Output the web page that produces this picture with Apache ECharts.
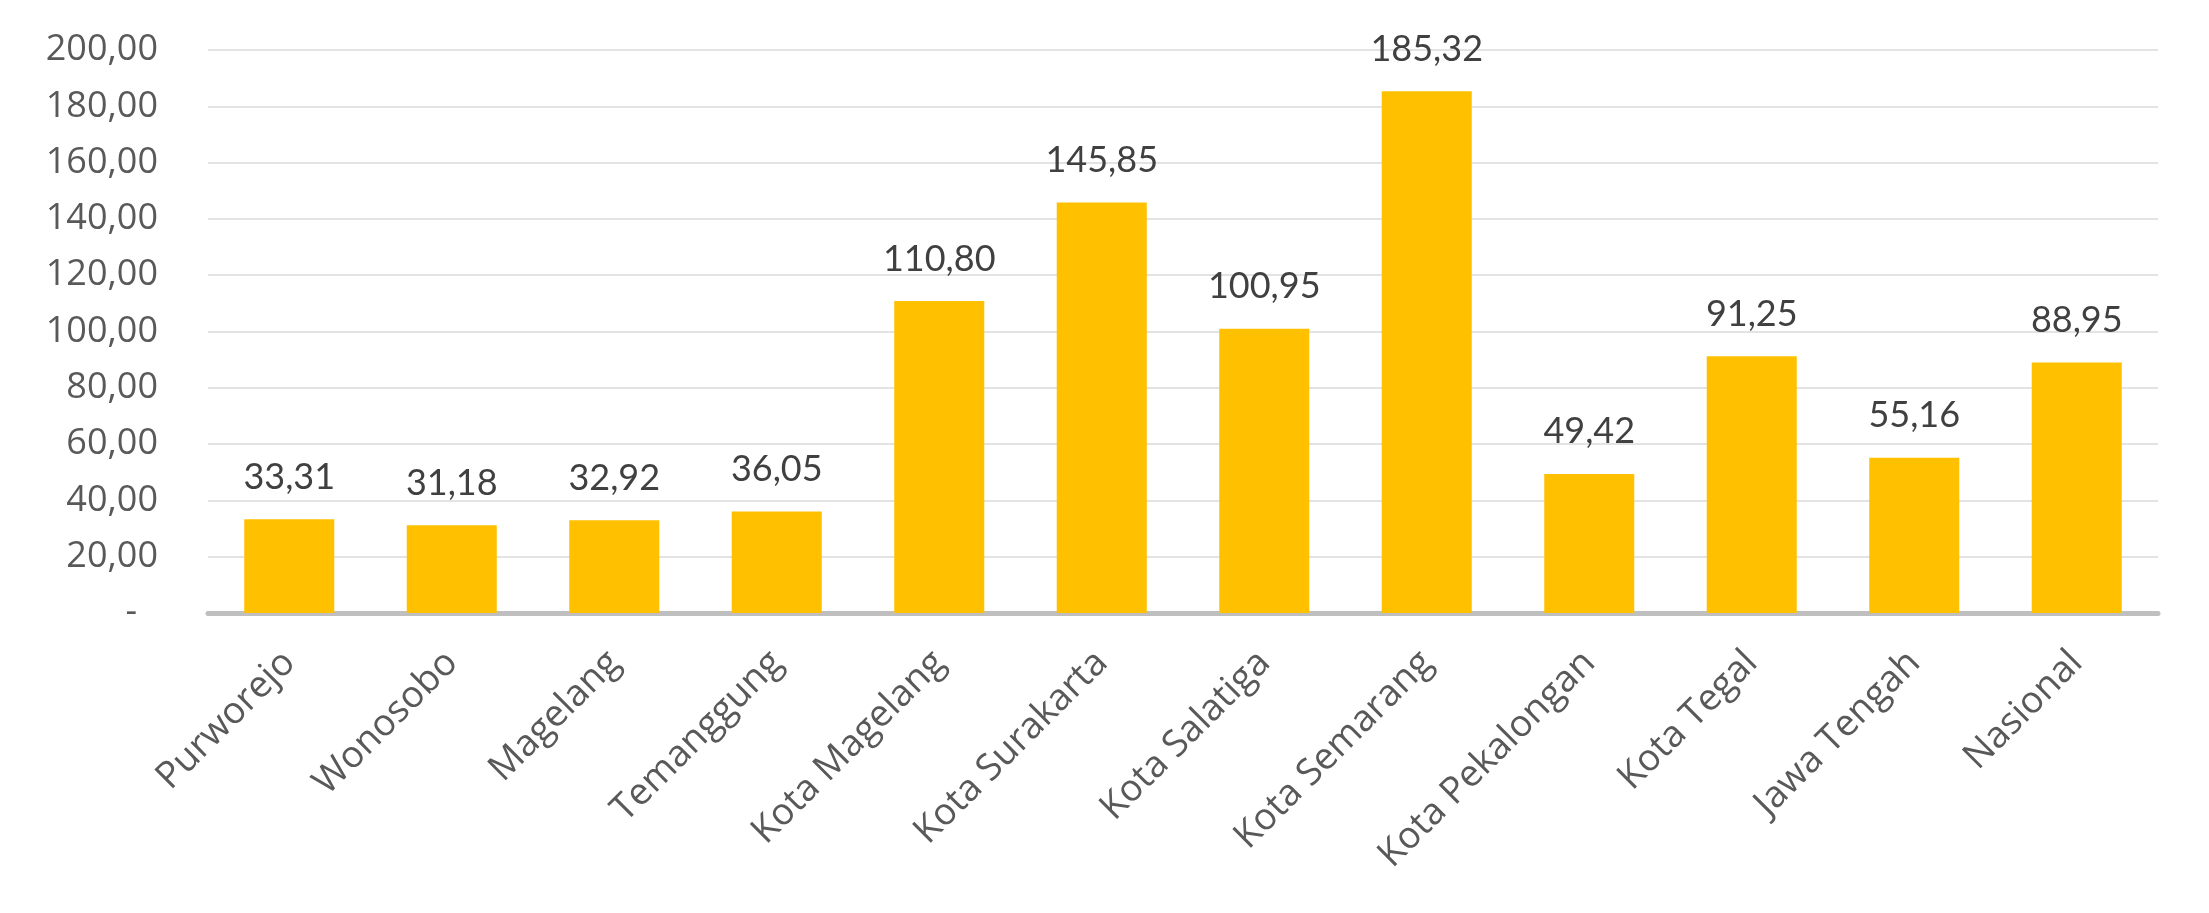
<!DOCTYPE html>
<html>
<head>
<meta charset="utf-8">
<script src="https://cdn.jsdelivr.net/npm/echarts@6/dist/echarts.min.js"></script>
<style>
html,body{margin:0;padding:0;background:#fff;}
#chart{width:2209px;height:913px;}
</style>
</head>
<body>
<div id="chart"></div>
<script>
const categories = ["Purworejo","Wonosobo","Magelang","Temanggung","Kota Magelang","Kota Surakarta","Kota Salatiga","Kota Semarang","Kota Pekalongan","Kota Tegal","Jawa Tengah","Nasional"];
const values = [33.31, 31.18, 32.92, 36.05, 110.80, 145.85, 100.95, 185.32, 49.42, 91.25, 55.16, 88.95];
const yMin = 0, yMax = 200, yStep = 20;

function fmt(v){ return v.toFixed(2).replace('.', ','); }

const chart = echarts.init(document.getElementById('chart'), null, {renderer:'canvas'});
chart.setOption({
  backgroundColor:'#ffffff',
  animation:false,
  grid:{left:208, right:51, top:50, bottom:300, containLabel:false},
  xAxis:{
    type:'category',
    data:categories,
    axisLine:{show:true, lineStyle:{color:'#bfbfbf', width:5}},
    axisTick:{show:false},
    axisLabel:{
      rotate:45, interval:0, margin:44,
      fontFamily:'Open Sans', fontSize:37, color:'#595959'
    }
  },
  yAxis:{
    type:'value', min:yMin, max:yMax, interval:yStep,
    axisLine:{show:false}, axisTick:{show:false},
    splitLine:{show:true, lineStyle:{color:'#e3e3e3', width:2}},
    axisLabel:{
      margin:50, fontFamily:'Open Sans', fontSize:36, color:'#595959',
      formatter:function(v){ return v===0 ? '{d|-}' : fmt(v); },
      rich:{d:{fontFamily:'Open Sans', fontSize:36, color:'#595959', padding:[0,21,0,0]}}
    }
  },
  series:[{
    type:'bar',
    data:values,
    barWidth:'55.4%',
    itemStyle:{color:'#FFC000'},
    label:{
      show:true, position:'top', distance:24,
      fontFamily:'Lato', fontSize:36, color:'#404040',
      formatter:function(p){ return fmt(p.value); }
    }
  }]
});
</script>
</body>
</html>
